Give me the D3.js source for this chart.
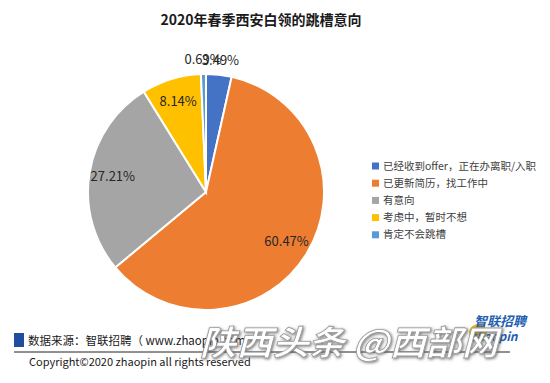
<!DOCTYPE html>
<html>
<head>
<meta charset="utf-8">
<script src="https://cdn.jsdelivr.net/npm/d3@7"></script>
<style>
  html, body { margin: 0; padding: 0; background: #fff; }
  svg { display: block; font-family: "Noto Sans CJK SC", "Noto Sans", sans-serif; }
</style>
</head>
<body>
<svg id="chart"></svg>
<script>
// 数据
const categories = ["已经收到offer，正在办离职/入职", "已更新简历，找工作中", "有意向", "考虑中，暂时不想", "肯定不会跳槽"];
const values = [3.49, 60.47, 27.21, 8.14, 0.69];
const colors = ["#4472C4", "#ED7D31", "#A5A5A5", "#FFC000", "#5B9BD5"];
const title = "2020年春季西安白领的跳槽意向";

const width = 550, height = 383;
const cx = 206, cy = 192, radius = 118;

const svg = d3.select("#chart").attr("width", width).attr("height", height);

// 标题
svg.append("text")
    .attr("x", 261).attr("y", 25)
    .attr("text-anchor", "middle")
    .style("font-size", "14px").style("font-weight", "bold")
    .attr("fill", "#1a1a1a")
    .text(title);

// 饼图
const pie = d3.pie().sort(null).value(d => d)(values);
const arc = d3.arc().innerRadius(0).outerRadius(radius);
const inLabel = d3.arc().innerRadius(radius * 0.8).outerRadius(radius * 0.8);
const outLabel = d3.arc().innerRadius(radius * 1.12).outerRadius(radius * 1.12);

const g = svg.append("g").attr("transform", `translate(${cx},${cy})`);

g.selectAll("path")
    .data(pie)
    .enter()
    .append("path")
    .attr("d", arc)
    .attr("fill", (d, i) => colors[i])
    .attr("stroke", "#fff")
    .attr("stroke-width", 2);

g.selectAll(".label")
    .data(pie)
    .enter()
    .append("text")
    .attr("class", "label")
    .attr("transform", d => `translate(${(d.value < 5 ? outLabel : inLabel).centroid(d)})`)
    .attr("text-anchor", "middle")
    .attr("dy", "0.35em")
    .style("font-size", "13px")
    .attr("fill", "#262626")
    .text(d => d.value.toFixed(2) + "%");

// 图例
const legend = svg.append("g").attr("transform", "translate(372,166)");
const item = legend.selectAll("g")
    .data(categories)
    .enter()
    .append("g")
    .attr("transform", (d, i) => `translate(0,${i * 17.2})`);

item.append("rect")
    .attr("x", 0).attr("y", -3.5)
    .attr("width", 7).attr("height", 7)
    .attr("fill", (d, i) => colors[i]);

item.append("text")
    .attr("x", 11).attr("dy", "0.35em")
    .style("font-size", "10.5px")
    .attr("fill", "#404040")
    .text(d => d);

// 数据来源
svg.append("rect")
    .attr("x", 14).attr("y", 333)
    .attr("width", 10).attr("height", 14)
    .attr("fill", "#1F4E9E");

svg.append("text")
    .attr("x", 28).attr("y", 345)
    .style("font-size", "11.5px")
    .attr("fill", "#1a1a1a")
    .text("数据来源：智联招聘（ www.zhaopin.com ）");

svg.append("line")
    .attr("x1", 14).attr("x2", 510)
    .attr("y1", 352).attr("y2", 352)
    .attr("stroke", "#222").attr("stroke-width", 1);

svg.append("text")
    .attr("x", 29).attr("y", 366)
    .style("font-size", "11px")
    .attr("fill", "#1a1a1a")
    .text("Copyright©2020 zhaopin all rights reserved");

// 智联招聘 logo
svg.append("circle")
    .attr("cx", 478).attr("cy", 333).attr("r", 9)
    .attr("fill", "#F5B800");

svg.append("text")
    .attr("x", 474).attr("y", 326)
    .style("font-size", "13px").style("font-weight", "bold").style("font-style", "italic")
    .attr("fill", "#1F5FB0")
    .text("智联招聘");

svg.append("text")
    .attr("x", 470).attr("y", 341)
    .style("font-size", "12px").style("font-weight", "bold").style("font-style", "italic")
    .attr("fill", "#1F5FB0")
    .text("zhaopin");

// 水印
const defs = svg.append("defs");
const f = defs.append("filter").attr("id", "shadow")
    .attr("x", "-10%").attr("y", "-30%").attr("width", "120%").attr("height", "160%");
f.append("feDropShadow")
    .attr("dx", 1).attr("dy", 1).attr("stdDeviation", 1.5)
    .attr("flood-color", "#555").attr("flood-opacity", 0.8);

svg.append("text")
    .attr("x", 200).attr("y", 355)
    .attr("textLength", 298)
    .attr("lengthAdjust", "spacingAndGlyphs")
    .style("font-size", "34px").style("font-weight", "bold").style("font-style", "italic")
    .attr("fill", "#fff")
    .attr("stroke", "#9a9a9a").attr("stroke-width", 0.8)
    .attr("filter", "url(#shadow)")
    .text("陕西头条 @西部网");
</script>
</body>
</html>
